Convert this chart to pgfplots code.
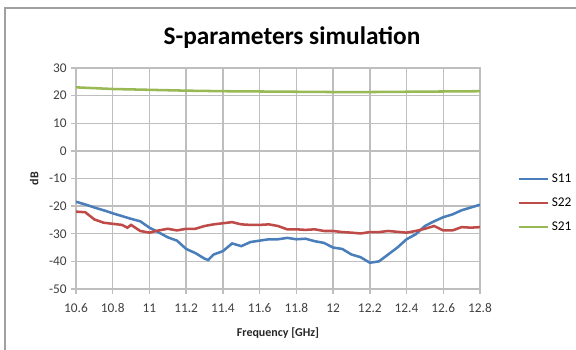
\documentclass[border=0pt]{standalone}
\usepackage{pgfplots}
\pgfplotsset{compat=1.18}
\usepackage{fontspec}
\setmainfont{Carlito}
\definecolor{sblue}{HTML}{4A7EBB}
\definecolor{sred}{HTML}{BE4B48}
\definecolor{sgreen}{HTML}{98B954}
\definecolor{gridc}{HTML}{BEBEBE}
\definecolor{axc}{HTML}{A0A0A0}
\begin{document}
\begin{tikzpicture}
\useasboundingbox (0pt,0pt) rectangle (432pt,262.5pt);
\draw[axc,line width=0.8pt] (3.75pt,0pt) -- (3.75pt,256.5pt) -- (432pt,256.5pt);
\node[font=\fontsize{19}{21}\selectfont\bfseries] at (219pt,234pt) {S-parameters simulation};
\begin{axis}[
  at={(57pt,45.75pt)}, anchor=south west,
  scale only axis, width=303pt, height=165.75pt,
  xmin=10.6, xmax=12.8, ymin=-50, ymax=30,
  xtick={10.6,10.8,...,12.8},
  xticklabels={10.6,10.8,11,11.2,11.4,11.6,11.8,12,12.2,12.4,12.6,12.8},
  ytick={-50,-40,...,30},
  xmajorgrids, ymajorgrids,
  grid style={gridc,line width=1.1pt},
  axis line style={gridc,line width=1.1pt},
  tick style={gridc,line width=1.1pt},
  xtick pos=lower, ytick pos=left,
  major tick length=3.5pt,
  tick align=outside,
  /pgf/number format/assume math mode=true,
  ticklabel style={font=\fontsize{10}{11}\selectfont, text=black!75},
  xticklabel style={yshift=-4pt},
  xlabel={Frequency [GHz]},
  ylabel={dB},
  label style={font=\fontsize{9}{10}\selectfont\bfseries, text=black!85},
  xlabel style={yshift=-4pt},
  ylabel style={yshift=1pt},
  legend style={at={(1.082,0.389)}, anchor=west, draw=none, fill=none,
    font=\fontsize{10}{11}\selectfont, row sep=6pt},
  legend cell align=left,
  legend image code/.code={\draw[#1,line width=1.8pt] (0pt,0pt) -- (22pt,0pt);},
  every axis plot/.append style={line width=1.9pt},
]
\addplot[sblue] coordinates {
(10.6,-18.4)(10.65,-19.4)(10.7,-20.5)(10.75,-21.5)(10.8,-22.6)(10.85,-23.6)(10.9,-24.6)(10.95,-25.5)
(11.0,-27.8)(11.05,-29.5)(11.1,-31.3)(11.15,-32.5)(11.2,-35.5)(11.25,-37)(11.3,-39)(11.32,-39.5)
(11.35,-37.5)(11.4,-36.3)(11.45,-33.5)(11.5,-34.5)(11.55,-33)(11.6,-32.5)(11.65,-32)(11.7,-32)
(11.75,-31.5)(11.8,-32)(11.85,-31.8)(11.9,-32.7)(11.95,-33.3)(12.0,-35)(12.05,-35.5)(12.1,-37.5)
(12.15,-38.5)(12.17,-39.3)(12.2,-40.5)(12.25,-40)(12.3,-37.5)(12.35,-35)(12.4,-32)(12.45,-30.2)
(12.5,-27.2)(12.55,-25.5)(12.6,-24)(12.65,-23)(12.7,-21.5)(12.75,-20.5)(12.8,-19.5)
};
\addlegendentry{S11}
\addplot[sred] coordinates {
(10.6,-22)(10.65,-22.2)(10.7,-24.8)(10.75,-26)(10.8,-26.4)(10.85,-26.8)(10.88,-27.8)(10.9,-26.8)
(10.95,-29)(11.0,-29.6)(11.05,-28.8)(11.1,-28.2)(11.15,-28.8)(11.2,-28.2)(11.25,-28.2)(11.3,-27.2)
(11.35,-26.6)(11.4,-26.2)(11.45,-25.8)(11.5,-26.6)(11.55,-26.8)(11.6,-26.8)(11.65,-26.6)(11.7,-27.2)
(11.75,-28.4)(11.8,-28.4)(11.85,-28.6)(11.9,-28.4)(11.95,-29)(12.0,-29)(12.05,-29.4)(12.1,-29.6)
(12.15,-29.9)(12.2,-29.4)(12.25,-29.4)(12.3,-29)(12.35,-29.3)(12.4,-29.6)(12.45,-29)(12.5,-28.2)
(12.55,-27.2)(12.6,-28.8)(12.65,-28.8)(12.7,-27.6)(12.75,-27.8)(12.8,-27.6)
};
\addlegendentry{S22}
\addplot[sgreen] coordinates {
(10.6,23)(10.8,22.4)(11.0,22.1)(11.2,21.8)(11.4,21.6)(11.6,21.5)(11.8,21.4)(12.0,21.3)
(12.2,21.3)(12.4,21.4)(12.6,21.5)(12.8,21.6)
};
\addlegendentry{S21}
\end{axis}
\end{tikzpicture}
\end{document}
